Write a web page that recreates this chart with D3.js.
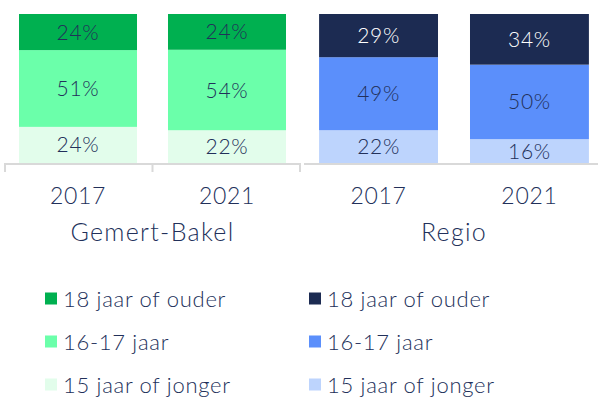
<!DOCTYPE html>
<html>
<head>
<meta charset="utf-8">
<script src="https://cdn.jsdelivr.net/npm/d3@7/dist/d3.min.js"></script>
<style>
  html, body { margin: 0; padding: 0; background: #ffffff; }
  svg { display: block; }
  text { font-family: "Lato", "Noto Sans", sans-serif; font-weight: 300; letter-spacing: 0.7px; }
</style>
</head>
<body>
<svg id="chart" width="598" height="398"></svg>
<script>
// Age groups, bottom to top in each stack
const ageGroups = ["15 jaar of jonger", "16-17 jaar", "18 jaar of ouder"];
const years = ["2017", "2021"];

// Share per age group (%) for each year
const gemertBakel15 = [24, 22];
const gemertBakel1617 = [51, 54];
const gemertBakel18 = [24, 24];

const regio15 = [22, 16];
const regio1617 = [49, 50];
const regio18 = [29, 34];

const groupNames = ["Gemert-Bakel", "Regio"];

const greenColors = ["#e2fdeb", "#6bffaa", "#00b050"];
const blueColors = ["#bdd4fd", "#5b8ffb", "#1c2b52"];
const textColor = "#22305a";

const svg = d3.select("#chart");

function rows(s15, s1617, s18) {
  return years.map((y, i) => ({
    year: y,
    [ageGroups[0]]: s15[i],
    [ageGroups[1]]: s1617[i],
    [ageGroups[2]]: s18[i]
  }));
}

const y = d3.scaleLinear().domain([0, 1]).range([163, 14]);

function panel(opts) {
  const data = rows(...opts.series);
  const stacked = d3.stack().keys(ageGroups).offset(d3.stackOffsetExpand)(data);
  const x = d3.scaleBand().domain(years).range(opts.range)
    .paddingInner(opts.padIn).paddingOuter(opts.padOut);
  const color = d3.scaleOrdinal().domain(ageGroups).range(opts.colors);

  const g = svg.append("g");

  const layers = g.selectAll("g.layer").data(stacked).join("g")
    .attr("class", "layer")
    .attr("fill", d => color(d.key));

  layers.selectAll("rect").data(d => d).join("rect")
    .attr("x", d => x(d.data.year))
    .attr("width", x.bandwidth())
    .attr("y", d => y(d[1]))
    .attr("height", d => y(d[0]) - y(d[1]));

  // value labels centred in each segment
  stacked.forEach((layer, li) => {
    g.selectAll(null).data(layer).join("text")
      .attr("x", d => x(d.data.year) + x.bandwidth() / 2)
      .attr("y", d => (y(d[0]) + y(d[1])) / 2)
      .attr("dy", "0.36em")
      .attr("text-anchor", "middle")
      .attr("font-size", 21)
      .attr("fill", li === 2 && opts.darkTop ? "#ffffff" : textColor)
      .text(d => d.data[layer.key] + "%");
  });

  // category axis line
  const [r0, r1] = x.range();
  g.append("line")
    .attr("x1", r0).attr("x2", r1)
    .attr("y1", 164).attr("y2", 164)
    .attr("stroke", "#d9d9d9").attr("stroke-width", 2);

  if (opts.ticks) {
    const tickXs = [r0, (x(years[0]) + x.bandwidth() + x(years[1])) / 2, r1];
    g.selectAll(null).data(tickXs).join("line")
      .attr("x1", d => d).attr("x2", d => d)
      .attr("y1", 163).attr("y2", 172)
      .attr("stroke", "#d9d9d9").attr("stroke-width", 2);
  }

  g.selectAll(null).data(years).join("text")
    .attr("x", d => x(d) + x.bandwidth() / 2)
    .attr("y", 204)
    .attr("text-anchor", "middle")
    .attr("font-size", 23)
    .attr("fill", textColor)
    .text(d => d);

  g.append("text")
    .attr("x", (r0 + r1) / 2)
    .attr("y", 241)
    .attr("text-anchor", "middle")
    .attr("font-size", 25)
    .style("letter-spacing", "1.3px")
    .attr("fill", textColor)
    .text(opts.name);

  // legend, top entry first
  const legend = svg.append("g");
  const entries = ageGroups.slice().reverse();
  entries.forEach((key, i) => {
    const cy = 298.5 + i * 43;
    legend.append("rect")
      .attr("x", opts.legendX).attr("y", cy - 6)
      .attr("width", 12).attr("height", 12)
      .attr("fill", color(key));
    legend.append("text")
      .attr("x", opts.legendX + 18)
      .attr("y", cy + 8)
      .attr("font-size", 22)
      .attr("fill", textColor)
      .text(key);
  });
}

panel({
  name: groupNames[0],
  series: [gemertBakel15, gemertBakel1617, gemertBakel18],
  colors: greenColors,
  range: [5, 300], padIn: 0.208, padOut: 0.094,
  ticks: true, darkTop: false, legendX: 45
});

panel({
  name: groupNames[1],
  series: [regio15, regio1617, regio18],
  colors: blueColors,
  range: [304, 604], padIn: 0.212, padOut: 0.1,
  ticks: false, darkTop: true, legendX: 309
});
</script>
</body>
</html>
